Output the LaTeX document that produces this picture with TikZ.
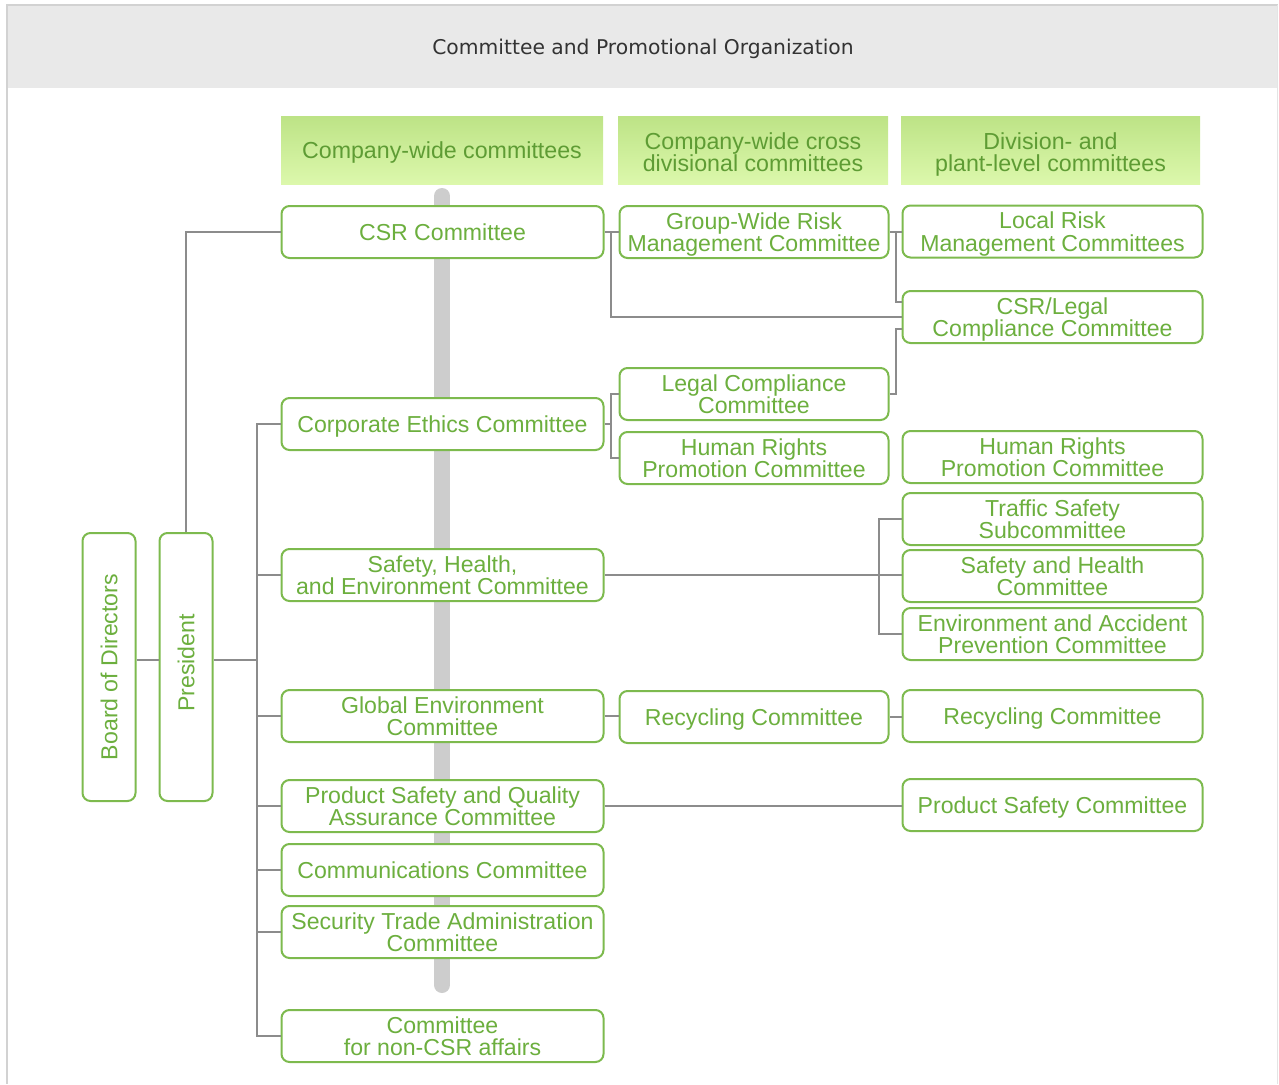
\documentclass[tikz,border=0pt]{standalone}
\usepackage{fontspec}
\usepackage{graphicx}
\setmainfont{Liberation Sans}
\newfontfamily\titlefont{DejaVu Sans}

\definecolor{boxgreen}{HTML}{7DBA4E}
\definecolor{txtgreen}{HTML}{6CAF3E}
\definecolor{hdtext}{HTML}{5E9C34}
\definecolor{hdtop}{HTML}{BDE386}
\definecolor{hdbot}{HTML}{DCF8AC}
\definecolor{linegray}{HTML}{8C8C8C}
\definecolor{bargray}{HTML}{CDCDCD}
\definecolor{bandgray}{HTML}{E9E9E9}
\definecolor{framegray}{HTML}{D2D2D2}
\definecolor{titlegray}{HTML}{333333}

\begin{document}
\begin{tikzpicture}[x=1pt,y=-1pt,
  every node/.style={inner sep=0pt},
  boxbase/.style={draw=boxgreen, line width=2pt, rounded corners=8pt, fill=white,
    text=txtgreen, align=center, font=\fontsize{23.1}{22.5}\selectfont},
  box/.style={boxbase, minimum height=52pt, text height=18pt, text depth=2pt},
  twolines/.style={text height=41.5pt},
  colone/.style={box, minimum width=322pt},
  coltwo/.style={box, minimum width=269pt},
  colthree/.style={box, minimum width=300pt},
  tallbox/.style={boxbase, minimum width=53pt, minimum height=268pt},
  header/.style={top color=hdtop, bottom color=hdbot, text=hdtext, align=center,
    font=\fontsize{23.2}{22}\selectfont, minimum height=68pt,
    text height=18pt, text depth=2pt},
  conn/.style={draw=linegray, line width=1.8pt},
]
\useasboundingbox (0,0) rectangle (1279,1084);

% frame and title band
\fill[bandgray] (7,5) rectangle (1278,88);
\draw[framegray, line width=2pt] (6,5) -- (1278,5);
\draw[framegray, line width=2pt] (7,5) -- (7,1084);
\draw[framegray!60, line width=1pt] (1277.5,5) -- (1277.5,1084);
\node[font=\titlefont\fontsize{20.3}{21}\selectfont, text=titlegray] (title) at (643,48.5)
  {Committee and Promotional Organization};

% column headers
\node[header, minimum width=322pt] (hone) at (442,150) {Company-wide committees};
\node[header, text height=45.5pt, minimum width=270pt] (htwo) at (753,150) {Company-wide cross\\divisional committees};
\node[header, text height=45.5pt, minimum width=299pt] (hthree) at (1050.5,150) {Division- and\\plant-level committees};

% grey band behind the company-wide column
\draw[bargray, line width=16pt, line cap=round] (442,196) -- (442,985);

% left: board and president
\node[tallbox] (board) at (109,667) {\rotatebox{90}{Board of Directors}};
\node[tallbox] (pres) at (186,667) {\rotatebox{90}{\hspace{8pt}President}};

% company-wide committees
\node[colone] (csr) at (442.5,232) {CSR Committee};
\node[colone] (ethics) at (442.5,424) {Corporate Ethics Committee};
\node[colone, twolines] (she) at (442.5,575) {Safety, Health,\\and Environment Committee};
\node[colone, twolines] (glob) at (442.5,716) {Global Environment\\Committee};
\node[colone, twolines] (psqa) at (442.5,806) {Product Safety and Quality\\Assurance Committee};
\node[colone] (comm) at (442.5,870) {Communications Committee};
\node[colone, twolines] (sta) at (442.5,932) {Security Trade Administration\\Committee};
\node[colone, twolines] (noncsr) at (442.5,1036) {Committee\\for non-CSR affairs};

% company-wide cross divisional committees
\node[coltwo, twolines] (gwrisk) at (754,232) {Group-Wide Risk\\Management Committee};
\node[coltwo, twolines] (legal) at (754,394) {Legal Compliance\\Committee};
\node[coltwo, twolines] (hrtwo) at (754,458) {Human Rights\\Promotion Committee};
\node[coltwo] (recytwo) at (754,717) {Recycling Committee};

% division- and plant-level committees
\node[colthree, twolines] (localrisk) at (1052.5,231.5) {Local Risk\\Management Committees};
\node[colthree, twolines] (csrlegal) at (1052.5,317) {CSR/Legal\\Compliance Committee};
\node[colthree, twolines] (hrthree) at (1052.5,457) {Human Rights\\Promotion Committee};
\node[colthree, twolines] (traffic) at (1052.5,519) {Traffic Safety\\Subcommittee};
\node[colthree, twolines] (sandh) at (1052.5,576) {Safety and Health\\Committee};
\node[colthree, twolines] (envacc) at (1052.5,634) {Environment and Accident\\Prevention Committee};
\node[colthree] (recythree) at (1052.5,716) {Recycling Committee};
\node[colthree] (prodsafe) at (1052.5,805) {Product Safety Committee};

% helper positions for the connector trunks
\coordinate (spx) at (257,0);
\coordinate (midy) at (0,660);
\coordinate (ax) at (611,0);
\coordinate (bx) at (896,0);
\coordinate (cx) at (879,0);

% board -> president -> committees
\draw[conn] (board.east |- midy) -- (pres.west |- midy);
\draw[conn] (pres.east |- midy) -- (spx |- midy);
\draw[conn] (pres.north) |- (csr.west);
\draw[conn] (ethics.west) -- (ethics.west -| spx) -- (noncsr.west -| spx) -- (noncsr.west);
\foreach \n in {she,glob,psqa,comm,sta}
  \draw[conn] (\n.west) -- (\n.west -| spx);

% CSR committee branch
\draw[conn] (csr.east) -- (gwrisk.west);
\draw[conn] (csr.east -| ax) |- (csrlegal.west);
\draw[conn] (gwrisk.east) -- (gwrisk.east -| localrisk.west);
\draw[conn] (gwrisk.east -| bx) |- ([yshift=15pt]csrlegal.west);
\draw[conn] (legal.east) -- (legal.east -| bx) |- ([yshift=-12pt]csrlegal.west);

% corporate ethics branch
\draw[conn] (ethics.east) -- (ethics.east -| ax);
\draw[conn] (legal.west) -- (legal.west -| ax) -- (hrtwo.west -| ax) -- (hrtwo.west);

% safety, health and environment branch
\draw[conn] (she.east) -- (she.east -| sandh.west);
\draw[conn] (traffic.west) -- (traffic.west -| cx) -- (envacc.west -| cx) -- (envacc.west);

% environment and product safety branches
\draw[conn] (glob.east) -- (glob.east -| recytwo.west);
\draw[conn] (recytwo.east) -- (recytwo.east -| recythree.west);
\draw[conn] (psqa.east) -- (psqa.east -| prodsafe.west);
\end{tikzpicture}
\end{document}
